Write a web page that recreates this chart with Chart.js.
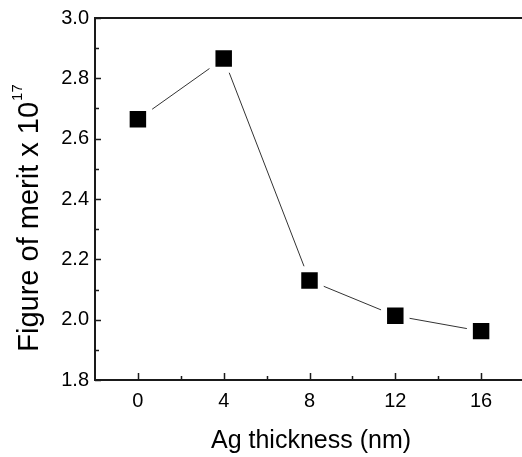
<!DOCTYPE html>
<html>
<head>
<meta charset="utf-8">
<script src="https://cdn.jsdelivr.net/npm/chart.js@4"></script>
<style>
  html, body { margin: 0; padding: 0; background: #fff; overflow: hidden; }
  #wrap { width: 526px; height: 457px; position: relative; }
</style>
</head>
<body>
<div id="wrap"><canvas id="meritChart"></canvas></div>
<script>
"use strict";

// values
var thickness = [0, 4, 8, 12, 16];
var merit = [2.664, 2.866, 2.130, 2.013, 1.962];
var xTickValues = [0, 4, 8, 12, 16];
var yTickValues = [1.8, 2.0, 2.2, 2.4, 2.6, 2.8, 3.0];
var xTitle = 'Ag thickness (nm)';
var yTitle = 'Figure of merit x 10';
var yTitleExp = '17';

var FONT = '"Liberation Sans", Arial, Helvetica, sans-serif';
var INK = '#1a1a1a';

// midpoints between major ticks -> minor ticks
function midpoints(list) {
    var out = [];
    for (var i = 0; i < list.length - 1; i++) {
        out.push((list[i] + list[i + 1]) / 2);
    }
    return out;
}

// frame, inward ticks and both axis titles
var framePlugin = {
    id: 'framePlugin',
    afterDraw: function(chart) {
        var ctx = chart.ctx;
        var a = chart.chartArea;
        var xs = chart.scales.x;
        var ys = chart.scales.y;
        ctx.save();
        ctx.strokeStyle = INK;
        ctx.lineWidth = 2;
        ctx.strokeRect(a.left, a.top, a.right - a.left, a.bottom - a.top);

        ctx.lineWidth = 1.5;
        ctx.beginPath();
        xTickValues.forEach(function(v) {
            var px = Math.round(xs.getPixelForValue(v)) + 0.5;
            ctx.moveTo(px, a.bottom); ctx.lineTo(px, a.bottom - 7);
        });
        midpoints(xTickValues.concat([20])).forEach(function(v) {
            var px = Math.round(xs.getPixelForValue(v)) + 0.5;
            ctx.moveTo(px, a.bottom); ctx.lineTo(px, a.bottom - 4);
        });
        yTickValues.forEach(function(v) {
            var py = Math.round(ys.getPixelForValue(v)) + 0.5;
            ctx.moveTo(a.left, py); ctx.lineTo(a.left + 6, py);
        });
        midpoints(yTickValues).forEach(function(v) {
            var py = Math.round(ys.getPixelForValue(v)) + 0.5;
            ctx.moveTo(a.left, py); ctx.lineTo(a.left + 4, py);
        });
        ctx.stroke();

        // x title
        ctx.fillStyle = '#000';
        ctx.font = '25px ' + FONT;
        ctx.textAlign = 'center';
        ctx.textBaseline = 'alphabetic';
        ctx.fillText(xTitle, 311, 448);

        // y title with superscript
        ctx.translate(38, 218);
        ctx.rotate(-Math.PI / 2);
        ctx.font = '29px ' + FONT;
        var w1 = ctx.measureText(yTitle).width;
        ctx.font = '15px ' + FONT;
        var w2 = ctx.measureText(yTitleExp).width;
        var start = -(w1 + w2 + 1) / 2;
        ctx.textAlign = 'left';
        ctx.font = '29px ' + FONT;
        ctx.fillText(yTitle, start, 0);
        ctx.font = '15px ' + FONT;
        ctx.fillText(yTitleExp, start + w1 + 1, -16);
        ctx.restore();
    }
};

var ctx = document.getElementById('meritChart');
var meritChart = new Chart(ctx, {
    type: 'line',
    data: {
        datasets: [{
            data: thickness.map(function(t, i) { return {x: t, y: merit[i]}; }),
            borderColor: '#333',
            borderWidth: 1,
            tension: 0,
            pointStyle: 'rect',
            pointRadius: 15.9,
            pointBackgroundColor: '#000',
            pointBorderColor: '#fff',
            pointBorderWidth: 6
        }]
    },
    options: {
        responsive: true,
        maintainAspectRatio: false,
        animation: false,
        events: [],
        layout: { autoPadding: false, padding: { top: 15, right: 2, left: 0, bottom: 0 } },
        plugins: {
            legend: { display: false },
            tooltip: { enabled: false }
        },
        scales: {
            x: {
                type: 'linear',
                min: -2,
                max: 18,
                grid: { display: false, drawTicks: false },
                border: { display: false },
                afterBuildTicks: function(scale) {
                    scale.ticks = xTickValues.map(function(v) { return {value: v}; });
                },
                afterFit: function(scale) { scale.height = 77; },
                ticks: {
                    padding: 9,
                    maxRotation: 0,
                    color: '#000',
                    font: { family: FONT, size: 20 },
                    callback: function(v) { return String(v); }
                }
            },
            y: {
                type: 'linear',
                min: 1.8,
                max: 3.0,
                grid: { display: false, drawTicks: false },
                border: { display: false },
                afterBuildTicks: function(scale) {
                    scale.ticks = yTickValues.map(function(v) { return {value: v}; });
                },
                afterFit: function(scale) { scale.width = 95; },
                ticks: {
                    padding: 6,
                    color: '#000',
                    font: { family: FONT, size: 20 },
                    callback: function(v) { return Number(v).toFixed(1); }
                }
            }
        }
    },
    plugins: [framePlugin]
});
</script>
</body>
</html>
